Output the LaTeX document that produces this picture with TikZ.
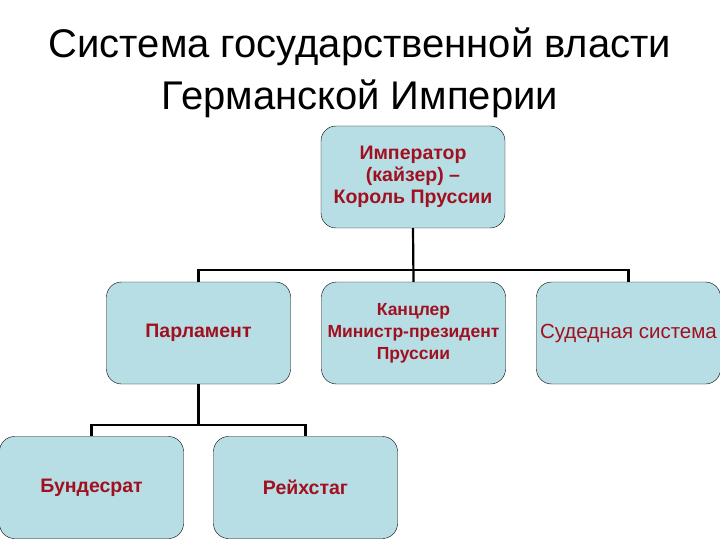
\documentclass[tikz,border=0pt]{standalone}
\usepackage{fontspec}
\setmainfont{Liberation Sans}
\definecolor{boxFill}{RGB}{183,222,228}
\definecolor{boxText}{RGB}{160,16,32}
\begin{document}
\begin{tikzpicture}[x=1pt, y=-1pt,
    boxStyle/.style={rectangle, draw, rounded corners=15pt, fill=boxFill, minimum width=184pt, minimum height=102pt, inner sep=2pt, align=center, text=boxText, font=\bfseries\fontsize{19.5}{22}\selectfont},
    smallBox/.style={boxStyle, font=\bfseries\fontsize{17.5}{22}\selectfont},
    plainBox/.style={boxStyle, font=\fontsize{20.5}{22}\selectfont},
    connStyle/.style={draw, line width=2.2pt}]
    \useasboundingbox (0,0) rectangle (720,540);

    \node[align=center, font=\fontsize{40}{52}\selectfont] (title) at (360, 73) {Система государственной власти\\Германской Империи};

    \node[boxStyle] (emperor) at (413, 177) {Император\\(кайзер) --\\Король Пруссии};

    \node[boxStyle] (parl)  at (198.5, 333) {Парламент};
    \node[smallBox] (chanc) at (413.5, 333) {Канцлер\\Министр-президент\\Пруссии};
    \node[plainBox] (court) at (628.5, 333) {Судедная система};

    \node[boxStyle] (bund)  at ( 91.5, 487.5) {Бундесрат};
    \node[boxStyle] (reich) at (305.5, 487.5) {Рейхстаг};

    \coordinate (bar1) at (413, 270);
    \coordinate (bar2) at (198.5, 425);

    \draw[connStyle] (emperor.south) -- (chanc.north);
    \draw[connStyle] (parl.north) |- (bar1) -| (court.north);
    \draw[connStyle] (parl.south) -- (bar2);
    \draw[connStyle] (bund.north) |- (bar2) -| (reich.north);
\end{tikzpicture}
\end{document}
